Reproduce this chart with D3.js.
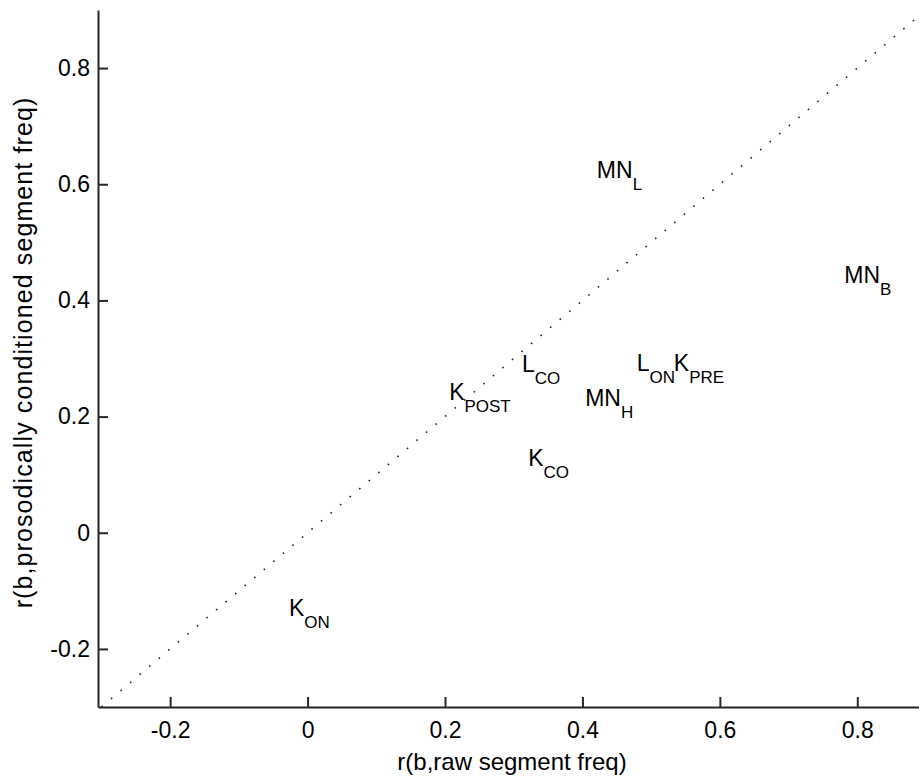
<!DOCTYPE html>
<html>
<head>
<meta charset="utf-8">
<script src="https://cdn.jsdelivr.net/npm/d3@7"></script>
<style>
  body { margin: 0; background: #fff; }
  svg text { font-family: "Liberation Sans", Arial, sans-serif; fill: #000; }
</style>
</head>
<body>
<div id="chart"></div>
<script>
// point labels: main letters, subscript, x = r(b,raw), y = r(b,prosodically conditioned)
const names = ["K", "K", "L", "K", "MN", "MN", "MN", "L", "K"];
const subs = ["ON", "POST", "CO", "CO", "H", "L", "B", "ON", "PRE"];
const rawFreq = [-0.027, 0.206, 0.312, 0.321, 0.404, 0.421, 0.781, 0.479, 0.533];
const condFreq = [-0.129, 0.242, 0.291, 0.130, 0.233, 0.625, 0.444, 0.292, 0.292];

const xTicks = [-0.2, 0, 0.2, 0.4, 0.6, 0.8];
const yTicks = [-0.2, 0, 0.2, 0.4, 0.6, 0.8];
const xDomain = [-0.305, 0.9];
const yDomain = [-0.3, 0.9];
const diagonal = [-0.3, 0.9];

const W = 919, H = 779;
const m = { left: 98, right: 926, top: 10, bottom: 707 };
const fs = 23;

const svg = d3.select("#chart").append("svg")
    .attr("width", W)
    .attr("height", H);

const x = d3.scaleLinear().domain(xDomain).range([m.left, m.right]);
const y = d3.scaleLinear().domain(yDomain).range([m.bottom, m.top]);

const fmt = d => d === 0 ? "0" : d3.format(".1f")(d).replace("\u2212", "-");

svg.append("clipPath").attr("id", "plot")
  .append("rect")
    .attr("x", m.left).attr("y", m.top)
    .attr("width", m.right - m.left).attr("height", m.bottom - m.top);

// y = x reference line
svg.append("line")
    .attr("clip-path", "url(#plot)")
    .attr("x1", x(diagonal[0])).attr("y1", y(diagonal[0]))
    .attr("x2", x(diagonal[1])).attr("y2", y(diagonal[1]))
    .attr("stroke", "#222")
    .attr("stroke-width", 1.6)
    .attr("stroke-dasharray", "1.6 10.9");

const xAxis = svg.append("g")
    .attr("transform", `translate(0,${m.bottom})`)
    .call(d3.axisBottom(x).tickValues(xTicks).tickFormat(fmt)
        .tickSizeInner(-10).tickSizeOuter(0).tickPadding(15));

const yAxis = svg.append("g")
    .attr("transform", `translate(${m.left},0)`)
    .call(d3.axisLeft(y).tickValues(yTicks).tickFormat(fmt)
        .tickSizeInner(-10).tickSizeOuter(0).tickPadding(8));

[xAxis, yAxis].forEach(g => {
    g.select(".domain").attr("stroke", "#262626").attr("stroke-width", 2);
    g.selectAll(".tick line").attr("stroke", "#262626").attr("stroke-width", 2);
    g.selectAll(".tick text")
        .style("font-family", "'Liberation Sans', Arial, sans-serif")
        .style("font-size", fs + "px")
        .attr("fill", "#000");
});

// axis titles
svg.append("text")
    .attr("x", (m.left + m.right) / 2)
    .attr("y", 770)
    .attr("text-anchor", "middle")
    .style("font-size", "24px")
    .text("r(b,raw segment freq)");

svg.append("text")
    .attr("transform", `translate(32,${(m.top + m.bottom) / 2 - 6}) rotate(-90)`)
    .attr("text-anchor", "middle")
    .style("font-size", "25px")
    .style("letter-spacing", "1.1px")
    .text("r(b,prosodically conditioned segment freq)");

// point labels
const pts = names.map((n, i) => ({ name: n, sub: subs[i], vx: rawFreq[i], vy: condFreq[i] }));

const labels = svg.selectAll(".pt")
    .data(pts)
    .join("text")
    .attr("class", "pt")
    .attr("x", d => x(d.vx))
    .attr("y", d => y(d.vy))
    .attr("dy", "0.36em")
    .style("font-size", fs + "px");

labels.append("tspan").text(d => d.name);
labels.append("tspan")
    .attr("dy", 12)
    .style("font-size", "17px")
    .text(d => d.sub);
</script>
</body>
</html>
